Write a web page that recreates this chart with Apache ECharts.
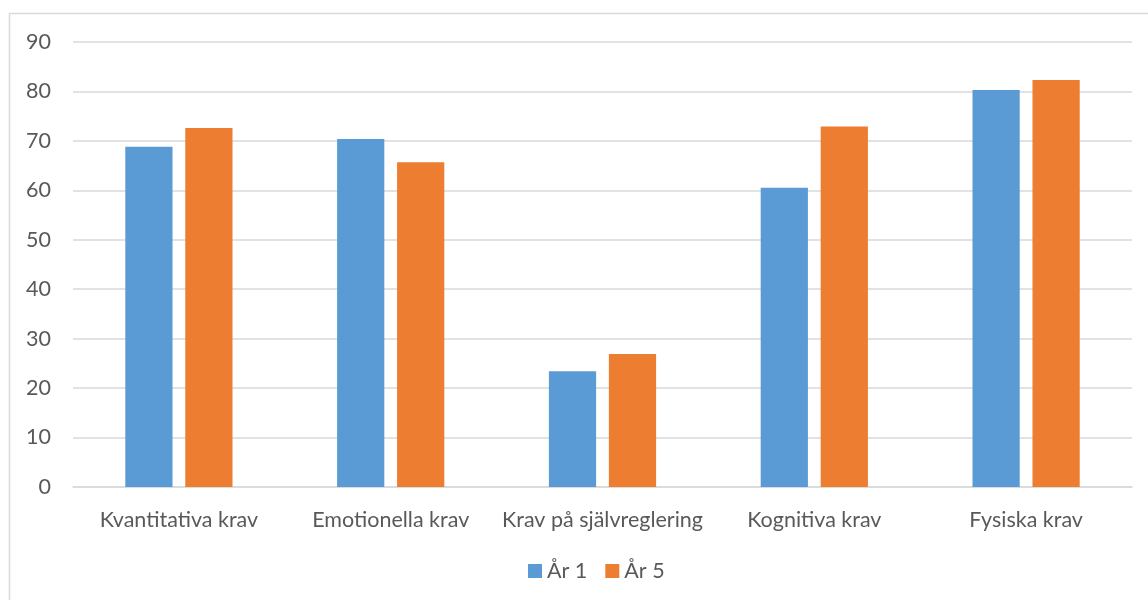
<!DOCTYPE html>
<html>
<head>
<meta charset="utf-8">
<script src="https://cdn.jsdelivr.net/npm/echarts@6/dist/echarts.min.js"></script>
<style>
html,body{margin:0;padding:0;background:#fff;}
#chart{width:1148px;height:600px;}
</style>
</head>
<body>
<div id="chart"></div>
<script>
const categories = ['Kvantitativa krav', 'Emotionella krav', 'Krav på självreglering', 'Kognitiva krav', 'Fysiska krav'];
const seriesNames = ['År 1', 'År 5'];
const ar1 = [68.8, 70.4, 23.4, 60.5, 80.3];
const ar5 = [72.6, 65.7, 26.9, 72.9, 82.3];
const colors = ['#5b9bd5', '#ed7d31'];
const fontFamily = 'Lato, "Open Sans", "Liberation Sans", sans-serif';

const chart = echarts.init(document.getElementById('chart'), null, {renderer: 'canvas'});
chart.setOption({
  animation: false,
  backgroundColor: '#fff',
  graphic: [{
    type: 'rect',
    shape: {x: 9.5, y: 13.5, width: 1200, height: 700},
    style: {fill: 'none', stroke: '#d9d9d9', lineWidth: 1.5},
    silent: true
  }],
  grid: {left: 73, right: 16, top: 42, bottom: 113, containLabel: false},
  legend: {
    bottom: 13,
    left: 523,
    itemWidth: 14,
    itemHeight: 14,
    itemGap: 18,
    icon: 'rect',
    textStyle: {color: '#595959', fontSize: 21.5, fontFamily: fontFamily},
    data: seriesNames
  },
  xAxis: {
    type: 'category',
    data: categories,
    axisLine: {show: true, lineStyle: {color: '#d9d9d9', width: 1.5}},
    axisTick: {show: false},
    axisLabel: {color: '#595959', fontSize: 21.5, fontFamily: fontFamily, margin: 22, interval: 0}
  },
  yAxis: {
    type: 'value',
    min: 0,
    max: 90,
    interval: 10,
    axisLine: {show: false},
    axisTick: {show: false},
    splitLine: {lineStyle: {color: '#d9d9d9', width: 1.5}},
    axisLabel: {color: '#595959', fontSize: 21.5, fontFamily: fontFamily, margin: 22}
  },
  series: [
    {name: seriesNames[0], type: 'bar', data: ar1, barWidth: '22.3%', barGap: '27%', itemStyle: {color: colors[0]}},
    {name: seriesNames[1], type: 'bar', data: ar5, barWidth: '22.3%', barGap: '27%', itemStyle: {color: colors[1]}}
  ]
});
</script>
</body>
</html>
